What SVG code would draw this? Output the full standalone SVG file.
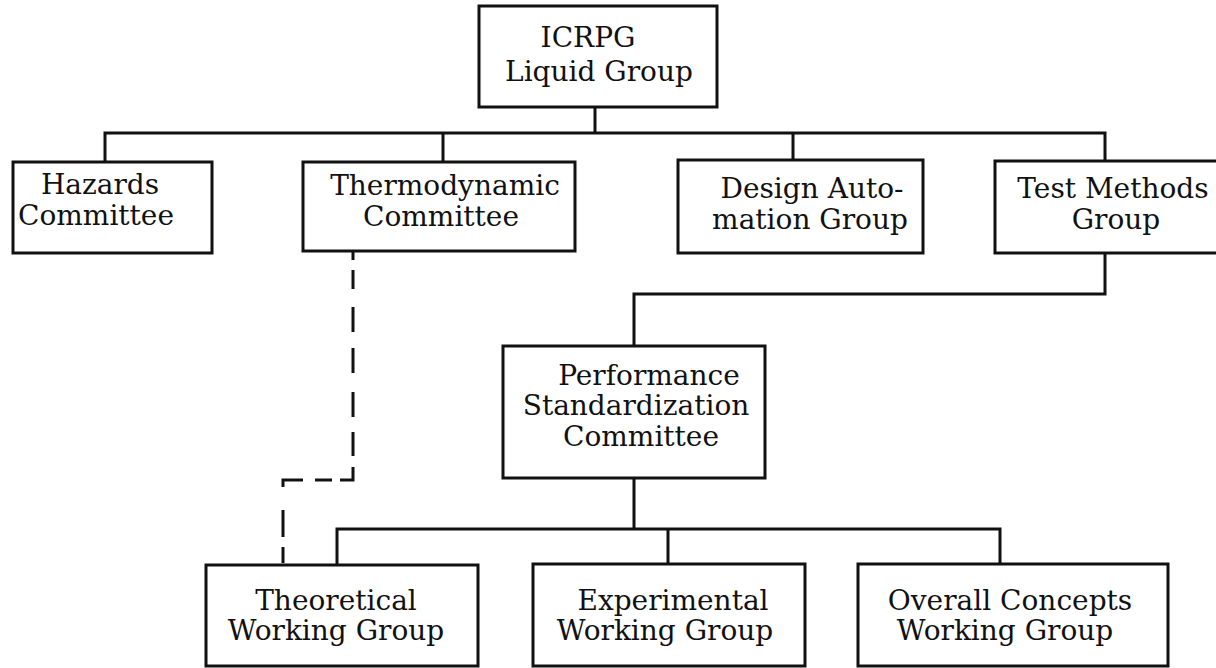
<svg xmlns="http://www.w3.org/2000/svg" width="1216" height="668" viewBox="0 0 1216 668">
<style>
.box{fill:#fff;stroke:#111;stroke-width:3}
.ln{fill:none;stroke:#111;stroke-width:3}
.dash{fill:none;stroke:#111;stroke-width:3;stroke-dasharray:10 10 19 18 25 16 25 19 25 15 24 11 26 8 17 12 27 23 27 10 16 10}
text{font-family:"DejaVu Serif","Liberation Serif",serif;font-size:28px;fill:#111;text-anchor:middle}
</style>
<rect width="1216" height="668" fill="#fff"/>
<g id="connectors">
<path class="ln" d="M595,107 V133 M105,162 V133 H1105 V161 M443,133 V162 M793,133 V160"/>
<path class="ln" d="M1105,253 V294 H634 V346"/>
<path class="ln" d="M634,478 V529 M337,565 V529 H1000 V564 M668,529 V564"/>
<path class="dash" d="M353,250 V480 H283 V565"/>
</g>
<g id="icrpg">
<rect class="box" x="479" y="6" width="238" height="101"/>
<text x="588" y="47">ICRPG</text>
<text x="599" y="81">Liquid Group</text>
</g>
<g id="hazards">
<rect class="box" x="13" y="162" width="199" height="91"/>
<text x="100" y="194">Hazards</text>
<text x="96" y="225">Committee</text>
</g>
<g id="thermodynamic">
<rect class="box" x="303" y="162" width="272" height="89"/>
<text x="445" y="195">Thermodynamic</text>
<text x="441" y="226">Committee</text>
</g>
<g id="design">
<rect class="box" x="678" y="160" width="245" height="93"/>
<text x="812" y="198">Design Auto-</text>
<text x="810" y="229">mation Group</text>
</g>
<g id="testmethods">
<rect class="box" x="995" y="161" width="240" height="92"/>
<text x="1113" y="198">Test Methods</text>
<text x="1116" y="229">Group</text>
</g>
<g id="performance">
<rect class="box" x="503" y="346" width="262" height="132"/>
<text x="649" y="385">Performance</text>
<text x="636" y="415">Standardization</text>
<text x="641" y="446">Committee</text>
</g>
<g id="theoretical">
<rect class="box" x="206" y="565" width="272" height="101"/>
<text x="336" y="610">Theoretical</text>
<text x="336" y="640">Working Group</text>
</g>
<g id="experimental">
<rect class="box" x="533" y="564" width="272" height="102"/>
<text x="673" y="610">Experimental</text>
<text x="665" y="640">Working Group</text>
</g>
<g id="overall">
<rect class="box" x="858" y="564" width="310" height="102"/>
<text x="1010" y="610">Overall Concepts</text>
<text x="1005" y="640">Working Group</text>
</g>
</svg>
